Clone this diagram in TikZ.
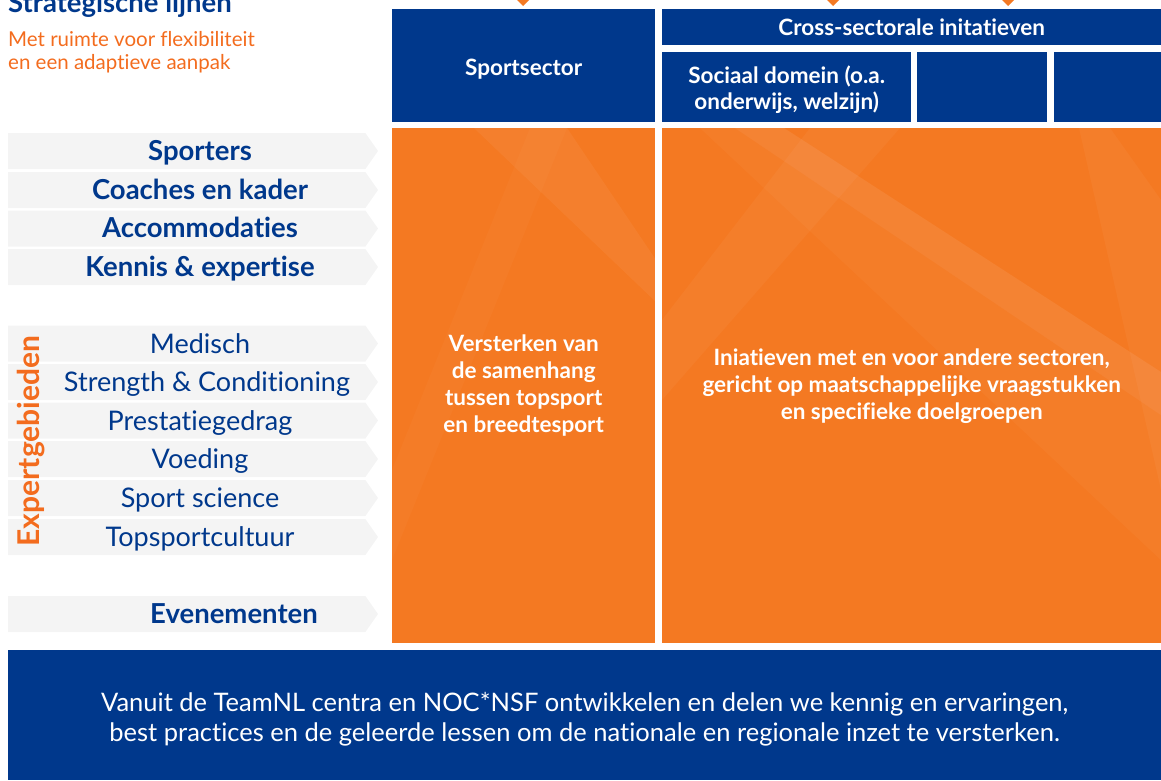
\documentclass[tikz,border=0pt]{standalone}
\usepackage{fontspec}
\setmainfont{Lato}[Ligatures=CommonOff]
\usepackage{tikz}
\usetikzlibrary{shapes.symbols}

\definecolor{nocblue}{RGB}{0,56,140}
\definecolor{nocorange}{RGB}{244,121,34}
\definecolor{bargray}{RGB}{244,244,244}
\definecolor{textorange}{RGB}{243,108,30}

\begin{document}
\begin{tikzpicture}[x=1pt, y=-1pt,
  bluebox/.style={fill=nocblue, text=white, anchor=north west, inner sep=0pt, align=center,
    font=\bfseries\fontsize{22.5}{26}\selectfont},
  orangebox/.style={fill=nocorange, anchor=north west, inner sep=0pt},
  boxtekst/.style={text=white, align=center, font=\bfseries\fontsize{22.5}{27}\selectfont},
  bar/.style={shape=signal, signal to=east, signal pointer angle=110, fill=bargray, anchor=west,
    minimum width=370pt, minimum height=36pt, inner sep=0pt, outer sep=0pt},
  lijn/.style={text=nocblue, anchor=base, inner sep=0pt, font=\bfseries\fontsize{27.5}{27.5}\selectfont},
  expert/.style={text=nocblue, anchor=base, inner sep=0pt, font=\fontsize{27}{27}\selectfont},
  tip/.style={fill=nocorange}]
  \useasboundingbox (0,0) rectangle (1161,780);

  % heading, cut off at the top
  \node[anchor=base west, inner sep=0pt, text=nocblue, font=\bfseries\fontsize{27.5}{27.5}\selectfont]
    (titel) at (8,12) {Strategische lijnen};
  \node[anchor=north west, inner sep=0pt, align=left, text=textorange, font=\fontsize{20.5}{23.5}\selectfont]
    (ondertitel) at (8,31) {Met ruimte voor flexibiliteit\\en een adaptieve aanpak};

  % arrow tips coming in from above
  \foreach \x in {523, 833, 1008} {
    \fill[tip] (\x-6,0) -- (\x+6,0) -- (\x,6) -- cycle;
  }

  % sector header boxes
  \node[bluebox, minimum width=263pt, minimum height=113pt] (sportsector) at (392,9) {};
  \node[bluebox, minimum width=499pt, minimum height=36pt] (cross) at (662,9) {Cross-sectorale initatieven};
  \node[bluebox, minimum width=249pt, minimum height=70pt] (sociaal) at (662,52) {};
  \node[bluebox, minimum width=130pt, minimum height=70pt] (sectorb) at (917,52) {};
  \node[bluebox, minimum width=107pt, minimum height=70pt] (sectorc) at (1054,52) {};
  \node[text=white, font=\bfseries\fontsize{22.5}{26}\selectfont] (sportsectortekst)
    at ([yshift=-3pt]sportsector.center) {Sportsector};
  \node[text=white, align=center, font=\bfseries\fontsize{22.5}{26}\selectfont] (sociaaltekst)
    at ([yshift=-2pt]sociaal.center) {Sociaal domein (o.a.\\onderwijs, welzijn)};

  % orange content boxes
  \node[orangebox, minimum width=263pt, minimum height=515pt] (samenhang) at (392,128) {};
  \node[orangebox, minimum width=499pt, minimum height=515pt] (initiatieven) at (662,128) {};
  % faint diagonal bands
  \begin{scope}
    \clip (samenhang.north west) rectangle (samenhang.south east);
    \fill[white, opacity=0.05] (474,128) -- (567,128) -- (656,260) -- (656,302) -- cycle;
    \fill[white, opacity=0.025] (530,128) -- (567,128) -- (392,560) -- (392,470) -- cycle;
  \end{scope}
  \begin{scope}
    \clip (initiatieven.north west) rectangle (initiatieven.south east);
    \fill[white, opacity=0.08] (735,128) -- (784,128) -- (1161,372) -- (1161,415) -- cycle;
    \fill[white, opacity=0.03] (700,128) -- (735,128) -- (1161,415) -- (1161,560) -- cycle;
    \fill[white, opacity=0.04] (810,128) -- (900,128) -- (662,400) -- (662,320) -- cycle;
    \fill[white, opacity=0.04] (1079,128) -- (1110,128) -- (1161,200) -- (1161,490) -- cycle;
  \end{scope}
  \node[boxtekst] (samenhangtekst) at (samenhang.center)
    {Versterken van\\de samenhang\\tussen topsport\\en breedtesport};
  \node[boxtekst] (initiatieventekst) at (initiatieven.center)
    {Iniatieven met en voor andere sectoren,\\gericht op maatschappelijke vraagstukken\\en specifieke doelgroepen};

  % strategic lines
  \foreach \y/\naam in {151/Sporters, 190/Coaches en kader, 228.5/Accommodaties, 267/Kennis \& expertise} {
    \node[bar] (lijn\y) at (8,\y) {};
    \node[lijn] at (200,\y+9) {\naam};
  }
  % expert areas
  \foreach \x/\y/\naam in {200/343.5/Medisch, 207/382/Strength \& Conditioning, 200/420.5/Prestatiegedrag,
      200/459/Voeding, 200/498/Sport science, 200/537/Topsportcultuur} {
    \node[bar] (expert\y) at (8,\y) {};
    \node[expert] at (\x,\y+9.5) {\naam};
  }
  \node[rotate=90, text=textorange, font=\bfseries\fontsize{30}{30}\selectfont] (expertgebieden) at (31,441) {Expertgebieden};
  \node[bar] (evenementen) at (8,614) {};
  \node[lijn] at (234,623) {Evenementen};

  % bottom band
  \node[fill=nocblue, anchor=north west, inner sep=0pt, minimum width=1153pt, minimum height=130pt]
    (kennisdeling) at (8,650) {};
  \node[text=white, align=center, font=\fontsize{25.5}{30}\selectfont] (kennisdelingtekst)
    at ([yshift=-4pt]kennisdeling.center)
    {Vanuit de TeamNL centra en NOC*NSF ontwikkelen en delen we kennig en ervaringen,\\best practices en de geleerde lessen om de nationale en regionale inzet te versterken.};
\end{tikzpicture}
\end{document}
